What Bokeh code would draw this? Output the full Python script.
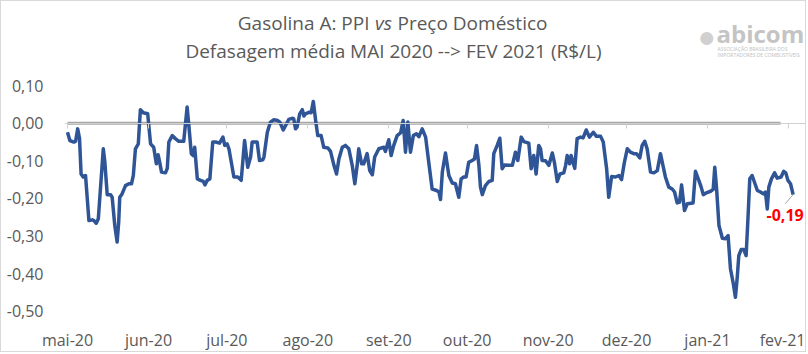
from bokeh.plotting import figure
from bokeh.models import (FixedTicker, CustomJSTickFormatter, LinearAxis, Label, Range1d)
from bokeh.embed import file_html
from bokeh.resources import INLINE
import pandas as pd

# ---------------- data ----------------
inicio = pd.Timestamp("2020-05-01")
meses = ["mai-20", "jun-20", "jul-20", "ago-20", "set-20", "out-20",
         "nov-20", "dez-20", "jan-21", "fev-21"]
y_ticks = [0.10, 0.00, -0.10, -0.20, -0.30, -0.40, -0.50]

# days since 2020-05-01
dias = [0, 0.9, 2.4, 3.1, 3.9, 4.6, 5.2, 6.0, 6.9, 8.2,
        9.5, 10.1, 11.0, 11.8, 12.6, 13.7, 14.3, 15.2, 16.5, 17.1,
        18.1, 19.0, 19.6, 20.0, 20.9, 22.2, 23.5, 24.5, 25.2, 26.0,
        27.1, 27.9, 29.0, 30.7, 31.8, 33.0, 34.0, 34.7, 35.3, 36.0,
        37.5, 38.2, 38.8, 40.1, 41.3, 42.6, 44.5, 45.8, 46.4, 47.4,
        48.1, 48.7, 49.7, 50.9, 52.0, 52.6, 53.5, 54.5, 55.6, 56.7,
        58.2, 59.5, 60.2, 61.1, 61.8, 63.7, 65.2, 66.5, 67.8, 69.0,
        70.1, 70.7, 72.6, 73.5, 74.8, 75.2, 76.5, 77.7, 79.0, 80.5,
        81.3, 82.6, 83.5, 84.7, 86.0, 86.6, 87.3, 87.9, 88.9, 89.9,
        90.5, 91.1, 92.4, 93.3, 94.1, 95.0, 95.8, 97.1, 98.1, 99.7,
        100.7, 102.0, 103.0, 103.9, 105.2, 106.4, 107.7, 109.0, 110.0, 110.9,
        111.5, 112.6, 113.4, 114.7, 115.7, 116.7, 117.6, 119.2, 121.1, 121.7,
        123.0, 123.9, 124.9, 126.2, 127.5, 128.5, 129.4, 130.3, 131.3, 132.4,
        133.6, 134.5, 135.8, 137.1, 138.3, 139.6, 141.3, 142.2, 142.8, 143.5,
        144.7, 146.0, 147.3, 148.5, 149.8, 150.7, 151.7, 152.6, 153.6, 154.9,
        155.8, 156.6, 157.5, 158.1, 158.8, 160.0, 161.3, 162.6, 163.2, 164.5,
        165.5, 166.4, 167.3, 169.0, 170.3, 171.5, 172.4, 173.7, 174.7, 176.6,
        177.5, 178.5, 179.4, 180.4, 181.1, 181.7, 183.0, 184.3, 185.6, 186.4,
        187.5, 188.5, 190.0, 190.7, 191.3, 192.2, 192.8, 193.5, 194.2, 195.1,
        196.4, 197.4, 198.6, 199.8, 201.3, 202.5, 204.1, 205.1, 206.4, 207.2,
        208.3, 209.8, 211.1, 212.1, 213.2, 214.3, 215.5, 216.8, 217.8, 219.1,
        220.0, 221.0, 221.9, 223.2, 224.5, 225.8, 227.0, 228.1, 228.9, 230.2,
        231.5, 232.4, 233.4, 234.3, 235.1, 236.2, 237.3, 239.5, 240.4, 241.7,
        242.6, 243.4, 244.6, 246.2, 247.2, 247.8, 248.5, 249.4, 250.7, 251.9,
        252.9, 253.8, 254.9, 255.7, 256.4, 257.0, 257.9, 258.9, 259.8, 260.5,
        261.2, 262.1, 263.0, 264.1, 265.3, 266.4, 267.2, 267.9, 268.5, 269.5,
        270.7, 271.7, 273.2, 274.2, 275.0, 275.8, 276.8, 277.8]

defasagem = [-0.024, -0.046, -0.050, -0.048, -0.015, -0.040, -0.135, -0.143, -0.139, -0.259,
             -0.257, -0.259, -0.266, -0.254, -0.175, -0.068, -0.104, -0.190, -0.190, -0.197,
             -0.272, -0.316, -0.263, -0.197, -0.188, -0.166, -0.161, -0.161, -0.139, -0.068,
             -0.055, 0.036, 0.028, 0.025, -0.055, -0.064, -0.108, -0.084, -0.104, -0.130,
             -0.132, -0.120, -0.050, -0.033, -0.041, -0.048, -0.048, 0.043, -0.002, -0.081,
             -0.086, -0.064, -0.148, -0.152, -0.155, -0.164, -0.152, -0.148, -0.050, -0.050,
             -0.053, -0.037, -0.059, -0.055, -0.068, -0.143, -0.143, -0.152, -0.046, -0.117,
             -0.090, -0.050, -0.050, -0.099, -0.097, -0.090, -0.024, 0.003, 0.009, 0.007,
             0.003, -0.018, -0.006, 0.010, 0.013, 0.012, -0.015, -0.010, 0.025, 0.036,
             0.019, 0.025, 0.029, 0.028, 0.058, 0.007, -0.033, -0.033, -0.064, -0.066,
             -0.075, -0.112, -0.135, -0.095, -0.064, -0.059, -0.068, -0.112, -0.161, -0.112,
             -0.068, -0.108, -0.108, -0.081, -0.126, -0.137, -0.090, -0.068, -0.064, -0.075,
             -0.044, -0.086, -0.059, -0.033, -0.026, 0.007, -0.077, 0.003, -0.077, -0.033,
             -0.028, -0.036, -0.015, -0.037, -0.104, -0.175, -0.179, -0.183, -0.203, -0.130,
             -0.079, -0.139, -0.159, -0.161, -0.197, -0.148, -0.143, -0.143, -0.104, -0.099,
             -0.095, -0.059, -0.112, -0.170, -0.190, -0.166, -0.155, -0.152, -0.081, -0.059,
             -0.040, -0.121, -0.111, -0.112, -0.112, -0.077, -0.099, -0.037, -0.049, -0.053,
             -0.121, -0.086, -0.135, -0.059, -0.068, -0.099, -0.100, -0.112, -0.079, -0.104,
             -0.155, -0.135, -0.132, -0.112, -0.086, -0.108, -0.086, -0.104, -0.120, -0.041,
             -0.037, -0.039, -0.018, -0.037, -0.024, -0.035, -0.035, -0.050, -0.121, -0.197,
             -0.142, -0.143, -0.139, -0.150, -0.104, -0.068, -0.077, -0.081, -0.081, -0.092,
             -0.059, -0.048, -0.068, -0.130, -0.132, -0.126, -0.081, -0.117, -0.143, -0.170,
             -0.175, -0.183, -0.212, -0.210, -0.164, -0.232, -0.214, -0.212, -0.128, -0.152,
             -0.170, -0.190, -0.185, -0.181, -0.176, -0.117, -0.175, -0.272, -0.306, -0.307,
             -0.299, -0.387, -0.427, -0.463, -0.410, -0.352, -0.336, -0.336, -0.352, -0.254,
             -0.148, -0.139, -0.157, -0.179, -0.183, -0.188, -0.183, -0.228, -0.170, -0.148,
             -0.132, -0.146, -0.143, -0.128, -0.132, -0.152, -0.161, -0.190]

zero_dias = [0, 273]
zero_valor = [0, 0]

# ---------------- figure ----------------
GRAY = "#595959"
FONT = "Open Sans"

mes_inicio = pd.date_range("2020-05-01", periods=len(meses), freq="MS")
x_ticks = [int((d - inicio).days) for d in mes_inicio]

W, H = 806, 352                 # plus a 1px CSS border -> 808 x 354
FL, FB = 63, 314                # frame left / bottom inside the border (frame reaches the top)

p = figure(width=W, height=H, output_backend="svg", toolbar_location=None,
           x_range=Range1d(-1.15, 283.3), y_range=Range1d(-0.5114, 0.3237),
           min_border_left=FL, min_border_right=0, min_border_top=0,
           min_border_bottom=H - FB, x_axis_location=None, y_axis_location=None)
p.outline_line_color = None
p.grid.visible = False
p.background_fill_color = "white"
p.border_fill_color = "white"
p.styles = {"border": "1px solid #d9d9d9"}

# y axis
yax = LinearAxis(ticker=FixedTicker(ticks=y_ticks),
                 formatter=CustomJSTickFormatter(code="return tick.toFixed(2).replace('.', ',');"))
yax.axis_line_color = None
yax.major_tick_line_color = None
yax.minor_tick_line_color = None
yax.major_label_standoff = 15
yax.major_label_text_font = FONT
yax.major_label_text_font_size = "16px"
yax.major_label_text_color = GRAY
p.add_layout(yax, "left")

# x axis labels (bottom)
xax = LinearAxis(ticker=FixedTicker(ticks=x_ticks),
                 major_label_overrides={t: m for t, m in zip(x_ticks, meses)})
xax.axis_line_color = None
xax.major_tick_line_color = None
xax.minor_tick_line_color = None
xax.major_label_standoff = 7
xax.major_label_text_font = FONT
xax.major_label_text_font_size = "16px"
xax.major_label_text_color = GRAY
p.add_layout(xax, "below")

# axis line with tick marks crossing at zero
xax0 = LinearAxis(ticker=FixedTicker(ticks=x_ticks), fixed_location=0)
xax0.axis_line_color = "#d0d0d0"
xax0.axis_line_width = 1
xax0.major_tick_line_color = "#d0d0d0"
xax0.major_tick_out = 5
xax0.major_tick_in = 0
xax0.minor_tick_line_color = None
xax0.major_label_text_color = None
xax0.major_label_text_font_size = "1px"
p.add_layout(xax0, "below")

# zero reference line and series
p.line(zero_dias, zero_valor, line_color="#A6A6A6", line_width=3)
p.line(dias, defasagem, line_color="#2F5597", line_width=3.5, line_join="round")

# data label for the last value (with small leader line)
p.segment(x0=[dias[-1] - 3.0], y0=[defasagem[-1] - 0.024], x1=[dias[-1]], y1=[defasagem[-1]],
          line_color="#a6a6a6", line_width=1)
p.add_layout(Label(x=dias[-1], y=defasagem[-1], x_offset=-8, y_offset=-20,
                   text=f"{defasagem[-1]:.2f}".replace(".", ","),
                   text_align="center", text_baseline="middle",
                   text_font=FONT, text_font_size="16px", text_font_style="bold",
                   text_color="#FF0000"))

# texts placed in page pixels (converted to frame-relative screen units)
def slab(x, y, text, size="19px", style="normal", align="center", color=GRAY, font=FONT):
    p.add_layout(Label(x=(x - 1) - FL, y=FB - (y - 1), x_units="screen", y_units="screen",
                       text=text, text_align=align, text_baseline="middle", text_font=font,
                       text_font_size=size, text_font_style=style, text_color=color))

slab(369, 22, "Gasolina A: PPI", align="right")
slab(383, 22, "vs", style="italic")
slab(397, 22, "Preço Doméstico", align="left")
slab(393, 50, "Defasagem média MAI 2020 --> FEV 2021 (R$/L)")

# logo
slab(706, 35, "●", size="30px", color="#d0d0d0")
slab(716, 33, "abicom", size="24px", style="bold", color="#c4c4c4", align="left")
slab(717, 48, "ASSOCIAÇÃO BRASILEIRA DOS", size="5px", color="#c0c0c0", align="left")
slab(717, 54, "IMPORTADORES DE COMBUSTÍVEIS", size="5px", color="#c0c0c0", align="left")

open("out.html", "w").write(file_html(p, INLINE))
